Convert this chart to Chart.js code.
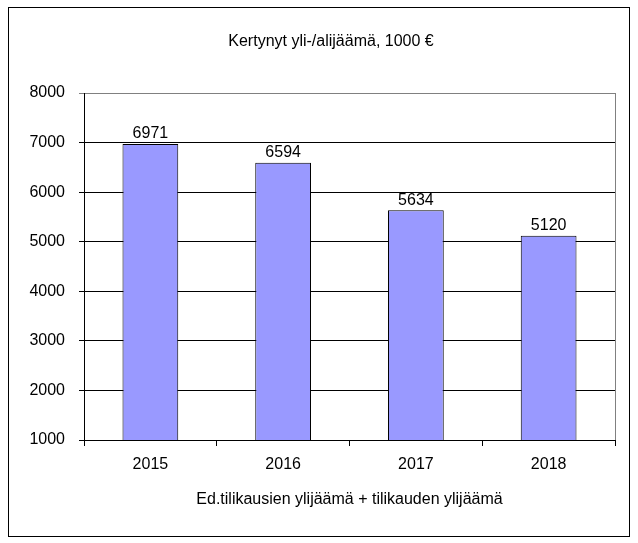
<!DOCTYPE html>
<html>
<head>
<meta charset="utf-8">
<script src="https://cdn.jsdelivr.net/npm/chart.js@4"></script>
<style>
  body { margin: 0; background: #fff; }
  #wrap { width: 638px; height: 543px; }
</style>
</head>
<body>
<div id="wrap"><canvas id="surplusChart"></canvas></div>
<script>
// Kertynyt yli-/alijäämä - values in 1000 €

const years = ['2015', '2016', '2017', '2018'];
const surplus = [6971, 6594, 5634, 5120];
const yTicks = [1000, 2000, 3000, 4000, 5000, 6000, 7000, 8000];
const chartTitle = 'Kertynyt yli-/alijäämä, 1000 €';

const FONT = "'Liberation Sans', Arial, sans-serif";

// outer frame, title and grey right edge of the plot area
const framePlugin = {
    id: 'frame',
    beforeDraw(chart) {
        const c = chart.ctx;
        c.save();
        c.fillStyle = '#fff';
        c.fillRect(0, 0, chart.width, chart.height);
        c.strokeStyle = '#000';
        c.lineWidth = 1;
        c.strokeRect(8.5, 7.5, chart.width - 17, chart.height - 14);
        c.font = '16px ' + FONT;
        c.fillStyle = '#000';
        c.textAlign = 'center';
        c.textBaseline = 'middle';
        c.fillText(chartTitle, 331, 42);
        c.restore();
    },
    beforeDatasetsDraw(chart) {
        const a = chart.chartArea;
        const c = chart.ctx;
        c.save();
        c.strokeStyle = '#808080';
        c.beginPath();
        c.moveTo(Math.round(a.right) + 0.5, a.top);
        c.lineTo(Math.round(a.right) + 0.5, a.bottom);
        c.stroke();
        c.restore();
    }
};

// value labels above bars
const valueLabels = {
    id: 'valueLabels',
    afterDatasetsDraw(chart) {
        const c = chart.ctx;
        const meta = chart.getDatasetMeta(0);
        c.save();
        c.font = '16px ' + FONT;
        c.fillStyle = '#000';
        c.textAlign = 'center';
        c.textBaseline = 'bottom';
        meta.data.forEach((bar, i) => {
            c.fillText(String(surplus[i]), bar.x, bar.y - 2);
        });
        c.restore();
    }
};

new Chart(document.getElementById('surplusChart'), {
    type: 'bar',
    data: {
        labels: years,
        datasets: [{
            data: surplus,
            backgroundColor: '#9999FF',
            borderColor: '#000',
            borderWidth: 1,
            barPercentage: 0.42,
            categoryPercentage: 1
        }]
    },
    options: {
        responsive: true,
        maintainAspectRatio: false,
        animation: false,
        layout: { padding: { left: 10, right: 23, top: 93, bottom: 32 } },
        plugins: {
            legend: { display: false },
            tooltip: { enabled: false },
            title: { display: false }
        },
        scales: {
            x: {
                afterFit(scale) { scale.height = 71; },
                grid: { offset: true, drawOnChartArea: false, drawTicks: true, tickLength: 6, color: '#000' },
                border: { color: '#000' },
                ticks: { color: '#000', font: { family: FONT, size: 16 }, padding: 9, maxRotation: 0 },
                title: {
                    display: true,
                    text: 'Ed.tilikausien ylijäämä + tilikauden ylijäämä',
                    color: '#000',
                    font: { family: FONT, size: 16 },
                    padding: { top: 0, bottom: 2 }
                }
            },
            y: {
                min: 1000,
                max: 8000,
                afterFit(scale) { scale.width = 74; },
                afterBuildTicks(scale) { scale.ticks = yTicks.map(v => ({ value: v })); },
                grid: {
                    color: ctx => (ctx.tick && ctx.tick.value === 8000 ? '#808080' : '#000'),
                    tickLength: 5
                },
                border: { color: '#000' },
                ticks: {
                    color: '#000',
                    font: { family: FONT, size: 16 },
                    padding: 14,
                    callback: v => String(v)
                }
            }
        }
    },
    plugins: [framePlugin, valueLabels]
});
</script>
</body>
</html>
